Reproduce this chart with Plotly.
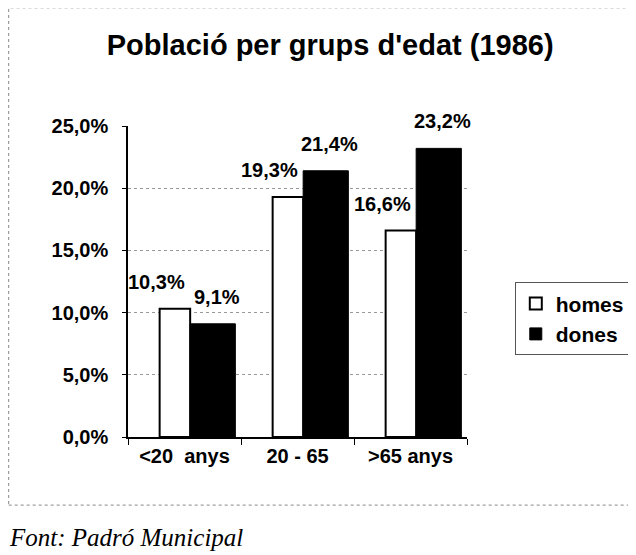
import plotly.graph_objects as go

categories = ["<20  anys", "20 - 65", ">65 anys"]
homes = [10.3, 19.3, 16.6]
dones = [9.1, 21.4, 23.2]
y_ticks = [0, 5, 10, 15, 20, 25]

def fmt(v):
    return f"{v:.1f}%".replace(".", ",")

FONT = "Liberation Sans, Arial, sans-serif"

fig = go.Figure()
fig.add_trace(go.Bar(
    x=categories, y=homes, name="<b>homes</b>",
    marker=dict(color="white", line=dict(color="black", width=2)),
    width=0.27, offset=-0.22,
))
fig.add_trace(go.Bar(
    x=categories, y=dones, name="<b>dones</b>",
    marker=dict(color="black", line=dict(color="black", width=1)),
    width=0.40, offset=0.05,
))

annotations = []
for c, v in zip(categories, homes):
    annotations.append(dict(x=c, y=v, xref="x", yref="y", text=f"<b>{fmt(v)}</b>",
                            showarrow=False, xshift=-28, yshift=27,
                            font=dict(family=FONT, size=20, color="black")))
for c, v in zip(categories, dones):
    annotations.append(dict(x=c, y=v, xref="x", yref="y", text=f"<b>{fmt(v)}</b>",
                            showarrow=False, xshift=32, yshift=27,
                            font=dict(family=FONT, size=20, color="black")))
annotations.append(dict(text="<i>Font: Padró Municipal</i>", xref="paper", yref="paper",
                        x=-0.358, y=-0.323, xanchor="left", yanchor="middle",
                        showarrow=False,
                        font=dict(family="Liberation Serif, Times New Roman, serif",
                                  size=25, color="black")))

fig.update_layout(
    width=628, height=547,
    margin=dict(l=120, r=169, t=118, b=118),
    paper_bgcolor="white", plot_bgcolor="white",
    barmode="overlay",
    font=dict(family=FONT, size=19, color="black"),
    title=dict(text="<b>Població per grups d'edat (1986)</b>",
               x=0.513, xanchor="center", y=0.932, yanchor="middle",
               font=dict(family=FONT, size=29, color="black")),
    showlegend=True,
    legend=dict(xref="container", x=0.807, yref="paper", y=0.497,
                xanchor="left", yanchor="top",
                bordercolor="#555", borderwidth=1, bgcolor="white",
                font=dict(family=FONT, size=21, color="black"),
                itemwidth=30, tracegroupgap=6),
    xaxis=dict(showline=True, linecolor="black", linewidth=1.5,
               ticks="outside", tickson="boundaries", ticklen=6,
               tickcolor="black", range=[-0.5, 2.5],
               tickvals=categories,
               ticktext=[f"<b>{c}</b>" for c in categories],
               tickfont=dict(family=FONT, size=20, color="black")),
    yaxis=dict(range=[0, 25], tickvals=y_ticks,
               ticktext=[f"<b>{fmt(v)}</b>" for v in y_ticks],
               showline=True, linecolor="black", linewidth=1.5,
               ticks="outside", ticklen=4, tickcolor="black",
               ticklabelstandoff=10,
               showgrid=True, gridcolor="#999", griddash="dot", gridwidth=1,
               zeroline=False,
               tickfont=dict(family=FONT, size=20, color="black")),
    shapes=[dict(type="rect", xref="paper", yref="paper",
                 x0=-0.352, x1=1.55, y0=-0.219, y1=1.38,
                 line=dict(color="#888", width=1, dash="dot"))],
    annotations=annotations,
)

fig.write_html("out.html")
